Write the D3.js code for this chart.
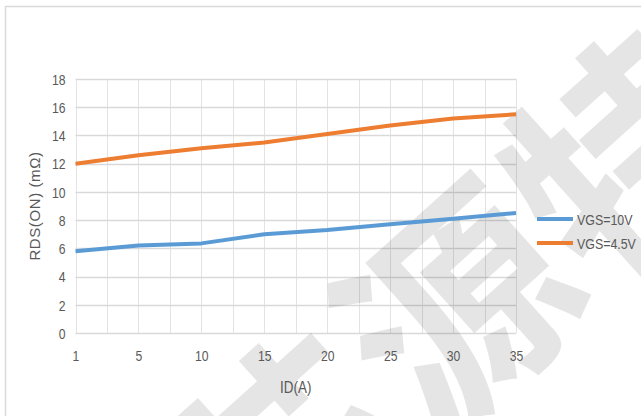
<!DOCTYPE html>
<html>
<head>
<meta charset="utf-8">
<script src="https://cdn.jsdelivr.net/npm/d3@7/dist/d3.min.js"></script>
<style>
  html, body { margin: 0; padding: 0; background: #fff; }
  svg { display: block; }
</style>
</head>
<body>
<div id="chart"></div>
<script>
// ---- data ----
const categories = ["1", "5", "10", "15", "20", "25", "30", "35"];
const seriesNames = ["VGS=10V", "VGS=4.5V"];
const vgs10 = [5.8, 6.2, 6.35, 7.0, 7.3, 7.7, 8.1, 8.5];
const vgs45 = [12.0, 12.6, 13.1, 13.5, 14.1, 14.7, 15.2, 15.5];
const yTicks = [0, 2, 4, 6, 8, 10, 12, 14, 16, 18];
const xTitle = "ID(A)";
const yTitle = "RDS(ON) (mΩ)";
const watermark = "芯源特";

const colors = ["#5b9bd5", "#ed7d31"];
const W = 641, H = 416;
const plot = { left: 75.5, right: 516, top: 79, bottom: 333 };
const labelFont = "'Liberation Sans', Arial, sans-serif";
const narrow = "scale(0.84,1)";

const svg = d3.select("#chart").append("svg").attr("width", W).attr("height", H);

// outer chart border (extends past the frame)
svg.append("rect").attr("x", 5.5).attr("y", 6.5).attr("width", 760).attr("height", 560)
  .attr("fill", "#fff").attr("stroke", "#d9d9d9").attr("stroke-width", 1.5);

const x = d3.scalePoint().domain(categories).range([plot.left, plot.right]);
const y = d3.scaleLinear().domain([0, 18]).range([plot.bottom, plot.top]);

// gridlines
const vLines = [];
categories.forEach((c, i) => {
  vLines.push(x(c));
  if (i < categories.length - 1) vLines.push((x(c) + x(categories[i + 1])) / 2);
});
svg.append("g").selectAll("line.v").data(vLines).join("line")
  .attr("x1", d => Math.round(d) + 0.5).attr("x2", d => Math.round(d) + 0.5)
  .attr("y1", y(18)).attr("y2", y(0))
  .attr("stroke", "#e3e3e3").attr("stroke-width", 1);
svg.append("g").selectAll("line.h").data(yTicks).join("line")
  .attr("x1", plot.left).attr("x2", plot.right)
  .attr("y1", d => Math.round(y(d)) + 0.5).attr("y2", d => Math.round(y(d)) + 0.5)
  .attr("stroke", "#d9d9d9").attr("stroke-width", 1.5);

// watermark
svg.append("text").text(watermark)
  .attr("transform", "translate(448,298) rotate(-42)")
  .attr("text-anchor", "middle").attr("dominant-baseline", "central")
  .attr("font-family", "'Noto Sans CJK SC', sans-serif").attr("font-weight", 700)
  .attr("font-size", 225).attr("fill", "#000").attr("fill-opacity", 0.1);

// axes tick labels via d3 axes (no domain/tick lines)
const yAxis = svg.append("g").attr("transform", `translate(${plot.left - 10},0)`)
  .call(d3.axisLeft(y).tickValues(yTicks).tickSize(0).tickPadding(0));
yAxis.select(".domain").remove();
yAxis.selectAll("text").attr("font-family", labelFont).attr("font-size", 14.5)
  .attr("fill", "#595959").attr("dy", "0.36em").attr("transform", narrow);

const xAxis = svg.append("g").attr("transform", `translate(0,${plot.bottom})`)
  .call(d3.axisBottom(x).tickSize(0).tickPadding(0));
xAxis.select(".domain").remove();
xAxis.selectAll("text").attr("font-family", labelFont).attr("font-size", 14.5)
  .attr("fill", "#595959").attr("dy", null).attr("y", 28).attr("transform", narrow);

// lines
const line = d3.line().x((d, i) => x(categories[i])).y(d => y(d));
[vgs10, vgs45].forEach((s, k) => {
  svg.append("path").datum(s).attr("d", line).attr("fill", "none")
    .attr("stroke", colors[k]).attr("stroke-width", 4).attr("stroke-linejoin", "round");
});

// titles
svg.append("g").attr("transform", `translate(${(plot.left + plot.right) / 2},393)`)
  .append("text").text(xTitle).attr("text-anchor", "middle").attr("transform", narrow)
  .attr("font-family", labelFont).attr("font-size", 16).attr("fill", "#595959");
svg.append("text").text(yTitle)
  .attr("transform", `translate(40,${(plot.top + plot.bottom) / 2}) rotate(-90)`)
  .attr("text-anchor", "middle").attr("font-family", labelFont)
  .attr("font-size", 15).attr("letter-spacing", 0.6).attr("fill", "#595959");

// legend
const lg = svg.append("g");
seriesNames.forEach((n, k) => {
  const ly = 219 + k * 24;
  lg.append("line").attr("x1", 537).attr("x2", 573).attr("y1", ly).attr("y2", ly)
    .attr("stroke", colors[k]).attr("stroke-width", 4);
  lg.append("g").attr("transform", `translate(577,${ly})`)
    .append("text").text(n).attr("dy", "0.36em").attr("transform", "scale(0.8,1)")
    .attr("font-family", labelFont).attr("font-size", 15.5).attr("fill", "#595959");
});
</script>
</body>
</html>
